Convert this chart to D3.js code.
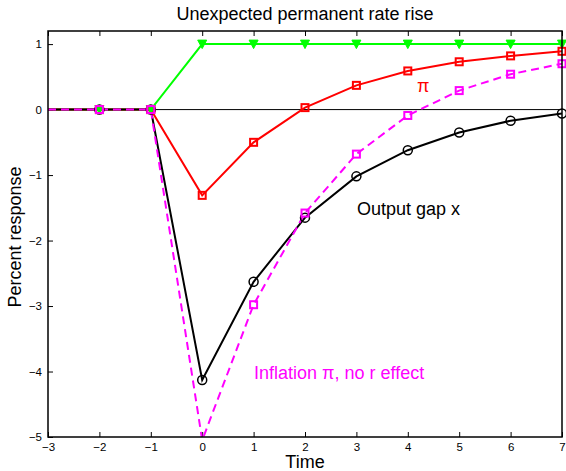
<!DOCTYPE html>
<html>
<head>
<meta charset="utf-8">
<script src="https://cdn.jsdelivr.net/npm/d3@7"></script>
<style>
  body { margin: 0; background: #fff; }
  svg { display: block; font-family: "Liberation Sans", Arial, Helvetica, sans-serif; }
</style>
</head>
<body>
<svg id="chart" width="566" height="471"></svg>
<script>
// Impulse responses to an unexpected permanent rate rise
const periods   = [-3, -2, -1, 0, 1, 2, 3, 4, 5, 6, 7];
const rate      = [0, 0, 0, 1, 1, 1, 1, 1, 1, 1, 1];
const inflation = [0, 0, 0, -1.31, -0.50, 0.03, 0.37, 0.59, 0.73, 0.82, 0.89];
const outputGap = [0, 0, 0, -4.13, -2.63, -1.65, -1.02, -0.62, -0.35, -0.17, -0.06];
const inflNoR   = [0, 0, 0, -5.05, -2.98, -1.58, -0.68, -0.09, 0.29, 0.54, 0.70];
const xTicks = [-3, -2, -1, 0, 1, 2, 3, 4, 5, 6, 7];
const yTicks = [-5, -4, -3, -2, -1, 0, 1];

const svg = d3.select("#chart");
const plotL = 48, plotR = 562, plotT = 31, plotB = 437;

const x = d3.scaleLinear().domain([-3, 7]).range([plotL, plotR]);
const y = d3.scaleLinear().domain([-5, 1.2]).range([plotB, plotT]);

const clipId = "plotclip";
svg.append("clipPath").attr("id", clipId)
  .append("rect").attr("x", plotL).attr("y", plotT).attr("width", plotR - plotL).attr("height", plotB - plotT);

// axes
const minus = d => d < 0 ? "\u2212" + Math.abs(d) : d;
const xAxis = d3.axisBottom(x).tickValues(xTicks).tickSizeInner(-5).tickSizeOuter(0)
  .tickFormat(minus).tickPadding(6);
const yAxis = d3.axisLeft(y).tickValues(yTicks).tickSizeInner(-5).tickSizeOuter(0)
  .tickFormat(minus).tickPadding(6);

const gx = svg.append("g").attr("transform", `translate(0,${plotB})`).call(xAxis);
const gy = svg.append("g").attr("transform", `translate(${plotL},0)`).call(yAxis);
const gxt = svg.append("g").attr("transform", `translate(0,${plotT})`)
  .call(d3.axisTop(x).tickValues(xTicks).tickSizeInner(-5).tickSizeOuter(0).tickFormat(""));
[gx, gy, gxt].forEach(g => {
  g.select(".domain").remove();
  g.selectAll(".tick line").attr("stroke", "#000").attr("stroke-width", 1);
  g.selectAll(".tick text").attr("font-size", 11.5).attr("fill", "#000")
    .attr("font-family", "Liberation Sans, Arial, sans-serif");
});

// zero line
svg.append("line").attr("x1", x(-3)).attr("x2", x(7)).attr("y1", y(0)).attr("y2", y(0))
  .attr("stroke", "#000").attr("stroke-width", 1);

const plot = svg.append("g").attr("clip-path", `url(#${clipId})`);
const line = d3.line().x((d, i) => x(periods[i])).y(d => y(d));

function drawSeries(vals, color, dash) {
  plot.append("path").datum(vals).attr("d", line)
    .attr("fill", "none").attr("stroke", color).attr("stroke-width", 2)
    .attr("stroke-dasharray", dash || null);
}
drawSeries(rate, "#00ff00");
drawSeries(inflation, "#ff0000");
drawSeries(outputGap, "#000000");
drawSeries(inflNoR, "#ff00ff", "8,5");

const markIdx = periods.map((p, i) => i).filter(i => periods[i] >= -2);

// green downward triangles
svg.append("g").selectAll("path").data(markIdx).join("path")
  .attr("d", i => {
    const cx = x(periods[i]), cy = y(rate[i]);
    return `M${cx - 4.5},${cy - 4}L${cx + 4.5},${cy - 4}L${cx},${cy + 4.5}Z`;
  })
  .attr("fill", "#00ff00").attr("stroke", "#00ff00").attr("stroke-width", 1);

// black circles
svg.append("g").selectAll("circle").data(markIdx).join("circle")
  .attr("cx", i => x(periods[i])).attr("cy", i => y(outputGap[i])).attr("r", 4.5)
  .attr("fill", "none").attr("stroke", "#000").attr("stroke-width", 1.5);

function squares(vals, color, filter) {
  const g = svg.append("g");
  const idx = markIdx.filter(filter);
  g.selectAll("rect").data(idx).join("rect")
    .attr("x", i => x(periods[i]) - 3.5).attr("y", i => y(vals[i]) - 3.5)
    .attr("width", 7).attr("height", 7)
    .attr("fill", "none").attr("stroke", color).attr("stroke-width", 2);
}
squares(inflation, "#ff0000", () => true);
squares(inflNoR, "#ff00ff", i => inflNoR[i] >= -5);

// box
svg.append("rect").attr("x", plotL).attr("y", plotT).attr("width", plotR - plotL).attr("height", plotB - plotT)
  .attr("fill", "none").attr("stroke", "#000").attr("stroke-width", 1.5);

// labels
svg.append("text").attr("x", 305).attr("y", 20).attr("text-anchor", "middle")
  .attr("font-size", 18).text("Unexpected permanent rate rise");
svg.append("text").attr("x", 305).attr("y", 468).attr("text-anchor", "middle")
  .attr("font-size", 18).text("Time");
svg.append("text").attr("transform", `translate(21,${(plotT + plotB) / 2 + 3}) rotate(-90)`)
  .attr("text-anchor", "middle").attr("font-size", 18).text("Percent response");

svg.append("text").attr("x", 357).attr("y", 215).attr("font-size", 18).text("Output gap x");
svg.append("text").attr("x", 417).attr("y", 92).attr("font-size", 18).attr("fill", "#ff0000").text("\u03c0");
svg.append("text").attr("x", 254).attr("y", 379).attr("font-size", 18).attr("fill", "#ff00ff")
  .text("Inflation \u03c0, no r effect");
</script>
</body>
</html>
